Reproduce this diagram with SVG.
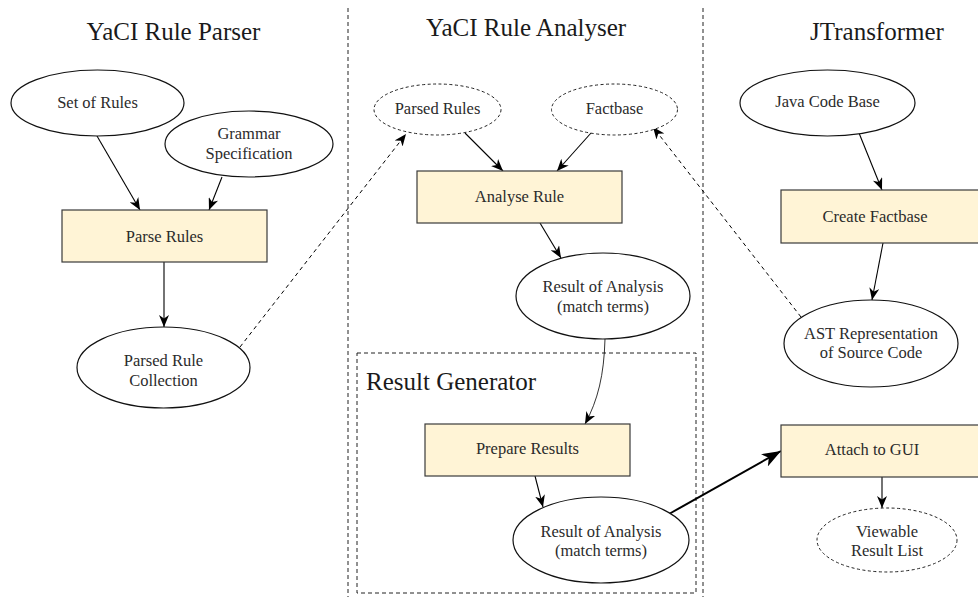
<svg xmlns="http://www.w3.org/2000/svg" width="978" height="597" viewBox="0 0 978 597">
  <style>
    .lane-head { font-family: "Liberation Serif", "Times New Roman", serif; font-size: 25px; fill: #1a1a1a; text-anchor: middle; }
    .node-text { font-family: "Liberation Serif", "Times New Roman", serif; font-size: 16.5px; fill: #2b2b2b; text-anchor: middle; }
    .node { fill: #ffffff; stroke: #111; stroke-width: 1.2; }
    .dnode { fill: #ffffff; stroke: #222; stroke-width: 1; stroke-dasharray: 3 2.5; }
    .box { fill: #fff4d6; stroke: #3a3a3a; stroke-width: 1.2; }
    .sep { fill: none; stroke: #222; stroke-width: 1; stroke-dasharray: 4 3; }
    .edge { fill: none; stroke: #000; stroke-width: 1.1; marker-end: url(#stealth); }
    .dedge { fill: none; stroke: #000; stroke-width: 1; stroke-dasharray: 4 3.5; marker-end: url(#stealth); }
    .thin { fill: none; stroke: #000; stroke-width: 0.8; marker-end: url(#stealth); }
    .bold { fill: none; stroke: #000; stroke-width: 2; marker-end: url(#stealthBig); }
  </style>
  <defs>
    <marker id="stealth" markerUnits="userSpaceOnUse" markerWidth="13" markerHeight="10" refX="12" refY="5" orient="auto">
      <path d="M0,0 L12,5 L0,10 L3.5,5 z" fill="#000"/>
    </marker>
    <marker id="stealthBig" markerUnits="userSpaceOnUse" markerWidth="20" markerHeight="14" refX="19" refY="7" orient="auto">
      <path d="M0,0 L19,7 L0,14 L5,7 z" fill="#000"/>
    </marker>
  </defs>

  <rect width="978" height="597" fill="#ffffff"/>

  <!-- swimlane separators and result generator frame -->
  <g id="lanes">
    <line class="sep" x1="348" y1="8" x2="348" y2="597"/>
    <line class="sep" x1="703" y1="8" x2="703" y2="597"/>
    <rect class="sep" x="357" y="353" width="339" height="240"/>
  </g>

  <!-- connectors -->
  <g id="connectors">
    <line class="edge" x1="97" y1="136" x2="140" y2="210"/>
    <line class="edge" x1="222" y1="177" x2="209" y2="210"/>
    <line class="edge" x1="164" y1="262" x2="164" y2="327"/>
    <line class="dedge" x1="240" y1="347" x2="406" y2="134"/>
    <line class="edge" x1="465" y1="133" x2="503" y2="171"/>
    <line class="edge" x1="591" y1="133" x2="557" y2="171"/>
    <line class="edge" x1="540" y1="223" x2="561" y2="258"/>
    <path class="thin" d="M605,339 C604,375 598,400 585,424"/>
    <line class="edge" x1="535" y1="476" x2="543" y2="507"/>
    <line class="bold" x1="669" y1="514" x2="781" y2="451"/>
    <line class="edge" x1="882" y1="477" x2="882" y2="508"/>
    <line class="edge" x1="859" y1="133" x2="882" y2="190"/>
    <line class="edge" x1="883" y1="243" x2="872" y2="300"/>
    <line class="dedge" x1="801" y1="317" x2="653" y2="127"/>
  </g>

  <!-- lane titles -->
  <g id="titles">
    <text class="lane-head" x="173.5" y="40">YaCI Rule Parser</text>
    <text class="lane-head" x="526" y="36">YaCI Rule Analyser</text>
    <text class="lane-head" x="877" y="40">JTransformer</text>
    <text class="lane-head" x="366" y="390" text-anchor="start" style="text-anchor:start">Result Generator</text>
  </g>

  <!-- YaCI Rule Parser lane -->
  <g id="set-of-rules">
    <ellipse class="node" cx="97.5" cy="103" rx="86.5" ry="33"/>
    <text class="node-text" x="97.5" y="108">Set of Rules</text>
  </g>
  <g id="grammar-specification">
    <ellipse class="node" cx="249" cy="144" rx="84" ry="33"/>
    <text class="node-text" x="249" y="139">Grammar</text>
    <text class="node-text" x="249" y="159">Specification</text>
  </g>
  <g id="parse-rules">
    <rect class="box" x="62" y="210" width="205" height="52"/>
    <text class="node-text" x="164.5" y="242">Parse Rules</text>
  </g>
  <g id="parsed-rule-collection">
    <ellipse class="node" cx="163.5" cy="367.5" rx="86.5" ry="40.5"/>
    <text class="node-text" x="163.5" y="366">Parsed Rule</text>
    <text class="node-text" x="163.5" y="386">Collection</text>
  </g>

  <!-- YaCI Rule Analyser lane -->
  <g id="parsed-rules">
    <ellipse class="dnode" cx="437.5" cy="109.5" rx="63.5" ry="25.5"/>
    <text class="node-text" x="437.5" y="114">Parsed Rules</text>
  </g>
  <g id="factbase">
    <ellipse class="dnode" cx="614.5" cy="109.5" rx="63" ry="25.5"/>
    <text class="node-text" x="614.5" y="114">Factbase</text>
  </g>
  <g id="analyse-rule">
    <rect class="box" x="417" y="171" width="205" height="52"/>
    <text class="node-text" x="519.5" y="202">Analyse Rule</text>
  </g>
  <g id="result-of-analysis">
    <ellipse class="node" cx="603" cy="296" rx="87" ry="43"/>
    <text class="node-text" x="603" y="292">Result of Analysis</text>
    <text class="node-text" x="603" y="312">(match terms)</text>
  </g>
  <g id="prepare-results">
    <rect class="box" x="425" y="424" width="205" height="52"/>
    <text class="node-text" x="527.5" y="454">Prepare Results</text>
  </g>
  <g id="result-of-analysis-2">
    <ellipse class="node" cx="601" cy="540" rx="88" ry="43"/>
    <text class="node-text" x="601" y="537">Result of Analysis</text>
    <text class="node-text" x="601" y="556">(match terms)</text>
  </g>

  <!-- JTransformer lane -->
  <g id="java-code-base">
    <ellipse class="node" cx="827.5" cy="103" rx="87.5" ry="33"/>
    <text class="node-text" x="827.5" y="107">Java Code Base</text>
  </g>
  <g id="create-factbase">
    <rect class="box" x="781" y="190" width="205" height="53"/>
    <text class="node-text" x="875" y="222">Create Factbase</text>
  </g>
  <g id="ast-representation">
    <ellipse class="node" cx="871" cy="343.5" rx="87" ry="43.5"/>
    <text class="node-text" x="871" y="339">AST Representation</text>
    <text class="node-text" x="871" y="358">of Source Code</text>
  </g>
  <g id="attach-to-gui">
    <rect class="box" x="781" y="425" width="205" height="52"/>
    <text class="node-text" x="872" y="455">Attach to GUI</text>
  </g>
  <g id="viewable-result-list">
    <ellipse class="dnode" cx="887" cy="540" rx="70" ry="32"/>
    <text class="node-text" x="887" y="537">Viewable</text>
    <text class="node-text" x="887" y="556">Result List</text>
  </g>
</svg>
